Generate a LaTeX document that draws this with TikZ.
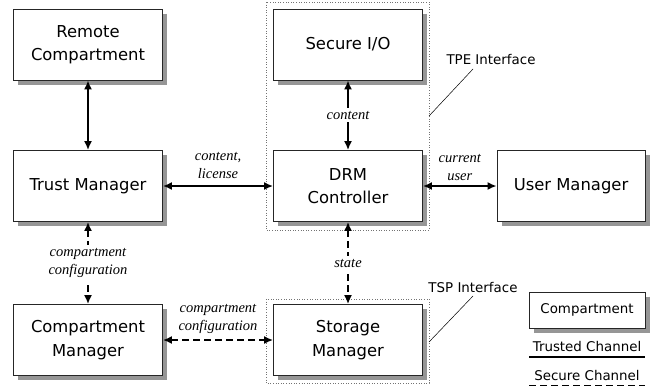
\documentclass[tikz,border=0pt]{standalone}
\usepackage{fontspec}
\usetikzlibrary{arrows.meta,calc}
\newfontfamily\boxfont{DejaVu Sans}
\newfontfamily\lblfont{Liberation Serif}
\definecolor{shadegray}{RGB}{150,150,150}
% gray offset shadow (right and bottom strips) of a box centred at #1
% with half sizes #2 and #3
\newcommand\cbshadow[3]{%
  \draw[shadegray, line width=4.5pt, line join=miter]
    ($(#1)+(#2+2.25,-#3+4.5)$) -- ($(#1)+(#2+2.25,#3+2.25)$)
    -- ($(#1)+(-#2+4.5,#3+2.25)$);}
\tikzset{
  compbox/.style={draw=black!85, line width=0.8pt, fill=white,
    minimum width=149pt, minimum height=71pt, align=center,
    font={\boxfont\fontsize{16.4}{23.5}\selectfont}},
  chlabel/.style={align=center, inner sep=1.5pt,
    font={\lblfont\itshape\fontsize{14.5}{18}\selectfont}},
  onwire/.style={chlabel, fill=white, inner sep=3pt},
  notetext/.style={font={\boxfont\fontsize{13.4}{16}\selectfont}, inner sep=0pt},
  trusted/.style={line width=1.9pt, {Latex[length=9pt,width=8pt]}-{Latex[length=9pt,width=8pt]}},
  secure/.style={trusted, dash pattern=on 7pt off 4pt},
  iface/.style={draw=black!55, dotted, line width=0.6pt},
  pointer/.style={draw=black, line width=0.5pt}
}
\begin{document}
\begin{tikzpicture}[x=1pt,y=-1pt]
\useasboundingbox (0,0) rectangle (663,388);

% box centres
\coordinate (rcC)  at (88,44.5);
\coordinate (sioC) at (348,44.5);
\coordinate (tmC)  at (88,186);
\coordinate (drmC) at (348,186);
\coordinate (umC)  at (571,186);
\coordinate (cmC)  at (88,340);
\coordinate (smC)  at (348,340);
\coordinate (lgC)  at (587,310);

% interface regions
\draw[iface] (266,2) rectangle (429,230);
\draw[iface] (266,299) rectangle (429,383);

% shadows
\foreach \c in {rcC,sioC,tmC,drmC,cmC,smC} {\cbshadow{\c}{74.5}{35.5}}
\cbshadow{umC}{74}{35.5}
\cbshadow{lgC}{58}{18}

% compartments
\node[compbox] (rc)  at (rcC)  {Remote\\Compartment};
\node[compbox] (sio) at (sioC) {Secure I/O};
\node[compbox] (tm)  at (tmC)  {Trust Manager};
\node[compbox] (drm) at (drmC) {DRM\\Controller};
\node[compbox, minimum width=148pt] (um) at (umC) {User Manager};
\node[compbox] (cm)  at (cmC)  {Compartment\\Manager};
\node[compbox] (sm)  at (smC)  {Storage\\Manager};
\node[compbox, minimum width=116pt, minimum height=36pt,
  font={\boxfont\fontsize{13.4}{16}\selectfont}]
  (lgbox) at (lgC) {Compartment};

% trusted channels
\draw[trusted] (rc.south) -- (tm.north);
\draw[trusted] (tm.east) -- (drm.west)
  node[chlabel, midway, above=5pt] {content,\\license};
\draw[trusted] (sio.south) -- (drm.north)
  node[onwire, midway] {content};
\draw[trusted] (drm.east) -- (um.west)
  node[chlabel, midway, above=3pt] {current\\user};

% secure channels
\draw[secure] (tm.south) -- (cm.north)
  node[onwire, midway] {compartment\\configuration};
\draw[secure] (drm.south) -- (sm.north)
  node[onwire, midway] {state};
\draw[secure] (cm.east) -- (sm.west)
  node[chlabel, midway, above=4pt] {compartment\\configuration};

% interface annotations
\node[notetext] (tpe) at (491,60) {TPE Interface};
\coordinate (tpeA) at (473,69);
\coordinate (tpeB) at (429,116);
\draw[pointer] (tpeA) -- (tpeB);
\node[notetext] (tsp) at (473,287) {TSP Interface};
\coordinate (tspA) at (473,296);
\coordinate (tspB) at (429,342);
\draw[pointer] (tspA) -- (tspB);

% legend
\node[notetext] (lgtr) at (587,346) {Trusted Channel};
\coordinate (trA) at (529,357);
\coordinate (trB) at (645,357);
\draw[line width=1.9pt] (trA) -- (trB);
\node[notetext] (lgsc) at (587,375) {Secure Channel};
\coordinate (scA) at (529,385.5);
\coordinate (scB) at (645,385.5);
\draw[line width=1.9pt, dash pattern=on 7pt off 4pt] (scA) -- (scB);
\end{tikzpicture}
\end{document}
